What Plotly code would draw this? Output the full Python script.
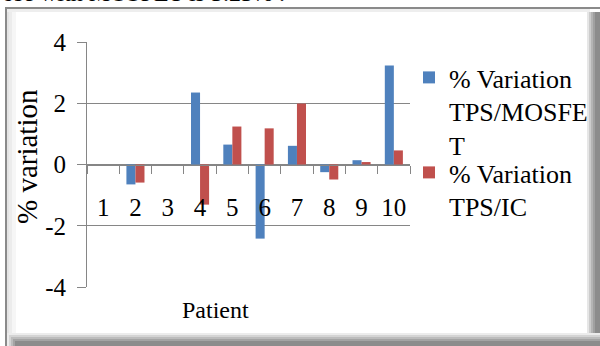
import plotly.graph_objects as go

patients = ["1", "2", "3", "4", "5", "6", "7", "8", "9", "10"]
var_mosfet = [0.0, -0.65, 0.0, 2.35, 0.65, -2.42, 0.61, -0.25, 0.14, 3.23]
var_ic = [0.0, -0.59, 0.0, -1.31, 1.24, 1.18, 1.99, -0.49, 0.08, 0.46]
name_mosfet = "% Variation<br>TPS/MOSFE<br>T"
name_ic = "% Variation<br>TPS/IC"
y_ticks = [-4, -2, 0, 2, 4]
y_ticktext = ["-4", "-2", "0", "2", "4"]

FONT = "Liberation Serif"
GRID = "#868686"

W, H = 600, 346
L, R, T, B = 87, 190, 42, 59


def px(x):
    return (x - L) / (W - L - R)


def py(y):
    return (H - B - y) / (H - T - B)


fig = go.Figure()
fig.add_trace(go.Bar(x=patients, y=var_mosfet, name=name_mosfet,
                     marker=dict(color="#4F81BD", line=dict(width=0)),
                     legend="legend"))
fig.add_trace(go.Bar(x=patients, y=var_ic, name=name_ic,
                     marker=dict(color="#C0504D", line=dict(width=0)),
                     legend="legend2"))

shapes = []


def rect(x0, y0, x1, y1, color):
    shapes.append(dict(type="rect", xref="paper", yref="paper",
                       x0=px(x0), x1=px(x1), y0=py(y0), y1=py(y1),
                       fillcolor=color, line=dict(width=0), layer="above"))


# frame (bevel)
rect(7, 9, 16, 340, "#e4e4e4")
rect(9, 9, 16, 340, "#ececec")
rect(12, 9, 16, 340, "#f6f6f6")
rect(7, 9, 590, 12, "#eeeeee")
rect(587, 12, 600, 346, "#e6e6e6")
rect(589, 12, 600, 346, "#cccccc")
rect(591, 12, 600, 346, "#b4b4b4")
rect(593, 12, 600, 346, "#a0a0a0")
rect(595, 12, 600, 346, "#8c8c8c")
rect(7, 333, 600, 346, "#ececec")
rect(9, 335, 600, 346, "#d4d4d4")
rect(11, 337, 600, 346, "#bcbcbc")
rect(13, 339, 600, 346, "#a4a4a4")
rect(15, 341, 600, 346, "#8c8c8c")
rect(5, 7, 600, 9, "#8a8a8a")
rect(5, 7, 7, 346, "#8a8a8a")

legend_style = dict(xanchor="left", yanchor="top", valign="top",
                    font=dict(family=FONT, size=26, color="black"),
                    itemwidth=30, tracegroupgap=0, bgcolor="rgba(0,0,0,0)")

fig.update_layout(
    width=W, height=H,
    margin=dict(l=L, r=R, t=T, b=B, autoexpand=False),
    paper_bgcolor="white", plot_bgcolor="white",
    font=dict(family=FONT, size=25, color="black"),
    barmode="group", bargap=0.44, bargroupgap=0,
    showlegend=True,
    legend=dict(x=px(409), y=py(54), **legend_style),
    legend2=dict(x=px(409), y=py(149), **legend_style),
    xaxis=dict(type="category", categoryorder="array", categoryarray=patients,
               anchor="free", position=0.5, showline=True, linecolor=GRID,
               linewidth=1, ticks="outside", tickson="boundaries", ticklen=8,
               tickcolor=GRID, showgrid=False, ticklabelstandoff=20,
               tickangle=0, automargin=False,
               tickfont=dict(family=FONT, size=25, color="black")),
    yaxis=dict(range=[-4, 4], tickvals=y_ticks, ticktext=y_ticktext,
               ticksuffix="\u00a0\u00a0", ticklabelstandoff=6,
               automargin=False,
               showgrid=True, gridcolor=GRID,
               zeroline=False, showline=True, linecolor=GRID, ticks="outside",
               ticklen=9, tickcolor=GRID,
               tickfont=dict(family=FONT, size=25, color="black")),
    shapes=shapes,
    annotations=[
        dict(text="% variation", textangle=-90, xref="paper", yref="paper",
             x=px(27), y=py(157), xanchor="center", yanchor="middle",
             showarrow=False, font=dict(family=FONT, size=29, color="black")),
        dict(text="Patient", xref="paper", yref="paper",
             x=px(215), y=py(310), xanchor="center", yanchor="middle",
             showarrow=False, font=dict(family=FONT, size=24, color="black")),
        dict(text="ose with MOSFET is 3.23% .", xref="paper", yref="paper",
             x=px(0), y=py(8), xanchor="left", yanchor="bottom",
             showarrow=False, font=dict(family=FONT, size=24, color="black")),
    ],
)

fig.write_html("out.html")
